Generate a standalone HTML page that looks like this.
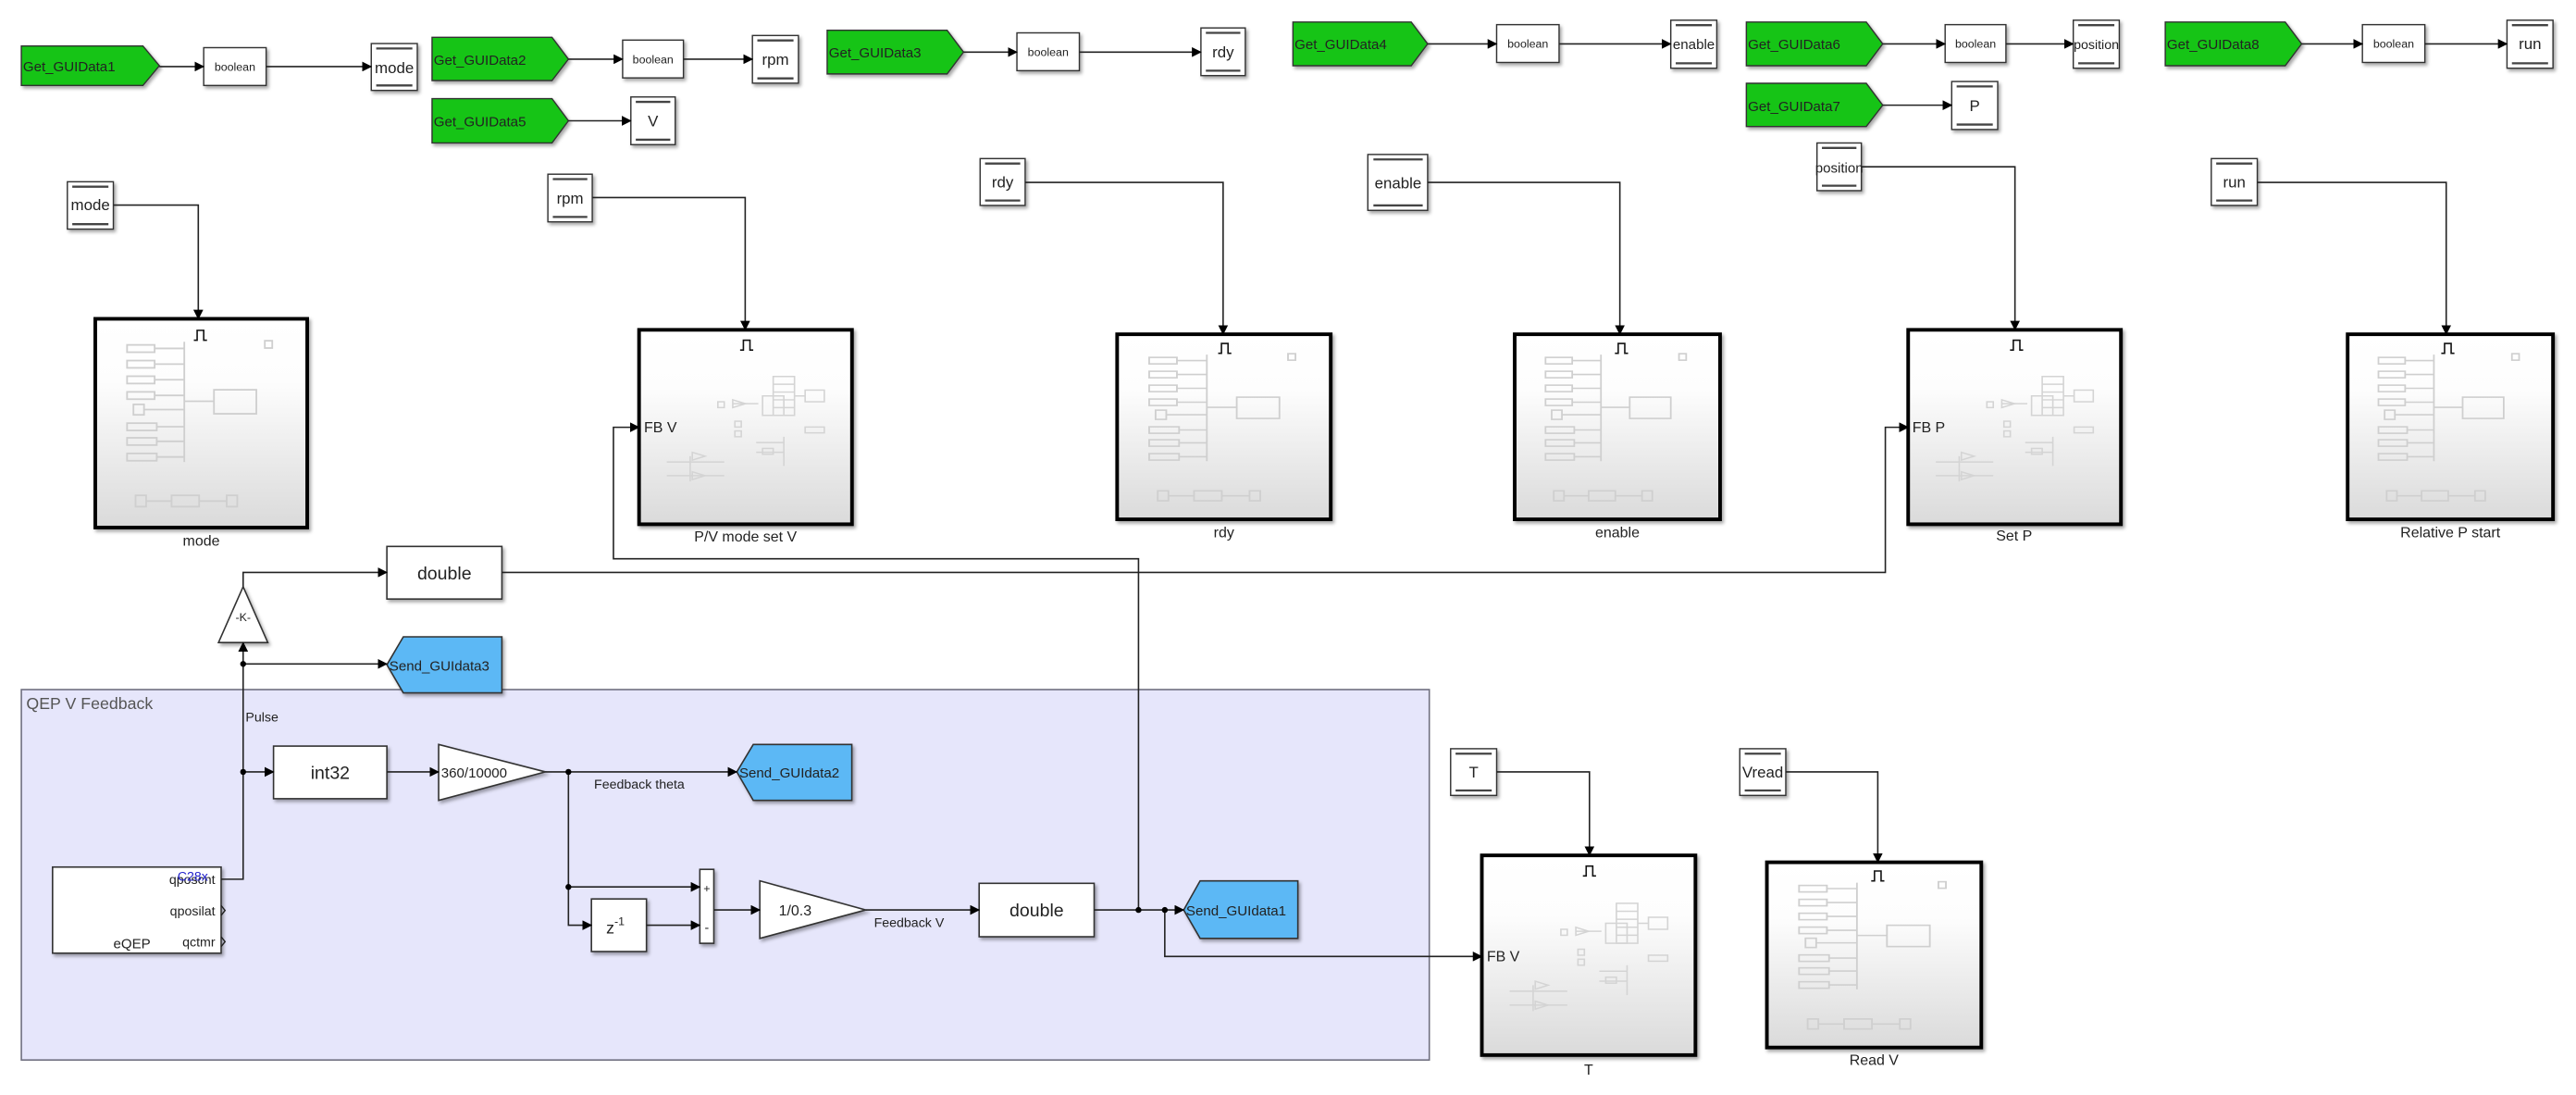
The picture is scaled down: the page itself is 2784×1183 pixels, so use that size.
<!DOCTYPE html>
<html><head><meta charset="utf-8"><style>
html,body{margin:0;padding:0;background:#fff;}
svg{display:block;}
text{font-family:"Liberation Sans Narrow","Liberation Sans",sans-serif;fill:#222;}
</style></head><body>
<svg width="2784" height="1183" viewBox="0 0 1568 666.3" preserveAspectRatio="none" xmlns="http://www.w3.org/2000/svg">
<defs>
<marker id="ar" markerWidth="6" markerHeight="6" refX="5.5" refY="3" orient="auto" markerUnits="userSpaceOnUse"><path d="M0,0 L6,3 L0,6 z" fill="#000"/></marker>
<filter id="sh" x="-10%" y="-10%" width="130%" height="130%"><feDropShadow dx="1.2" dy="1.5" stdDeviation="1" flood-color="#000" flood-opacity="0.35"/></filter>
<linearGradient id="gr" x1="0" y1="0" x2="0" y2="1"><stop offset="0" stop-color="#fff"/><stop offset="0.3" stop-color="#fdfdfd"/><stop offset="1" stop-color="#dadada"/></linearGradient>
<symbol id="lst" viewBox="0 0 100 100" preserveAspectRatio="none">
<g fill="none" stroke="#cfcfcf" stroke-width="0.8">
<rect x="15" y="12.5" width="13" height="3.5"/><rect x="15" y="20" width="13" height="3.5"/><rect x="15" y="27.5" width="13" height="3.5"/><rect x="15" y="35" width="13" height="3.5"/><rect x="18" y="41" width="5" height="5"/><rect x="15" y="50" width="14" height="3.5"/><rect x="15" y="57" width="14" height="3.5"/><rect x="15" y="64.5" width="14" height="3.5"/>
<path d="M28,14.2H42M28,21.7H42M28,29.2H42M28,36.7H42M23,43.5H42M29,51.7H42M29,58.7H42M29,66.2H42M42,11V68.6M42,39.5H56"/>
<rect x="56" y="34" width="20" height="11.5"/><rect x="80" y="10.5" width="3.5" height="3.5"/>
<rect x="19" y="84.6" width="5" height="5.4"/><rect x="36" y="84.6" width="13" height="5.4"/><rect x="62" y="84.6" width="5" height="5.4"/><path d="M24,87.3H36M49,87.3H62"/>
</g></symbol>
<symbol id="spr" viewBox="0 0 100 100" preserveAspectRatio="none">
<g fill="none" stroke="#d4d4d4" stroke-width="0.7">
<rect x="63" y="24" width="10" height="20"/><path d="M63,28H73M63,32H73M63,36H73M63,40H73M73,34H78"/><rect x="78" y="31" width="9" height="6"/>
<rect x="58" y="34" width="10" height="10"/><path d="M44,38H56"/><polygon points="44,36 50,38 44,40"/><rect x="37" y="37" width="3" height="3"/>
<rect x="78" y="50" width="9" height="3"/><rect x="45" y="47" width="3" height="3"/><rect x="45" y="52" width="3" height="3"/>
<path d="M55,58H68M68,55V70M55,63H68"/><rect x="58" y="61" width="5" height="3"/>
<path d="M13,68H40M13,75H40M24,65V78"/><polygon points="25,63 31,65 25,67"/><polygon points="25,73 31,75 25,77"/>
</g></symbol>
</defs>

<!-- ============ TOP ROW ============ -->
<g stroke="#333" stroke-width="0.8" filter="url(#sh)">
<polygon points="13,28 87,28 97,40 87,52 13,52" fill="#16c416"/>
<polygon points="263,22.7 336,22.7 346,36 336,49 263,49" fill="#16c416"/>
<polygon points="263,60 336,60 346,73.5 336,87 263,87" fill="#16c416"/>
<polygon points="503.5,18.4 576.5,18.4 586.5,31.7 576.5,45 503.5,45" fill="#16c416"/>
<polygon points="787,13.4 859,13.4 869,26.7 859,40 787,40" fill="#16c416"/>
<polygon points="1063,13.4 1136,13.4 1146,26.7 1136,40 1063,40" fill="#16c416"/>
<polygon points="1318,13.4 1391,13.4 1401,26.7 1391,40 1318,40" fill="#16c416"/>
<polygon points="1063,50.7 1136,50.7 1146,64 1136,77 1063,77" fill="#16c416"/>
</g>
<g font-size="8.5">
<text x="14" y="43.5">Get_GUIData1</text>
<text x="264" y="39.5">Get_GUIData2</text>
<text x="264" y="77">Get_GUIData5</text>
<text x="504.5" y="35">Get_GUIData3</text>
<text x="788" y="30">Get_GUIData4</text>
<text x="1064" y="30">Get_GUIData6</text>
<text x="1319" y="30">Get_GUIData8</text>
<text x="1064" y="67.5">Get_GUIData7</text>
</g>
<!-- boolean boxes -->
<g fill="#fff" stroke="#333" stroke-width="0.8" filter="url(#sh)">
<rect x="124" y="29" width="38" height="23"/>
<rect x="379" y="24.4" width="37" height="23"/>
<rect x="619" y="20" width="38" height="23"/>
<rect x="911" y="15" width="38" height="23"/>
<rect x="1184" y="15" width="37" height="23"/>
<rect x="1438" y="15" width="38" height="23"/>
</g>
<g font-size="7" text-anchor="middle">
<text x="143" y="43">boolean</text><text x="397.5" y="38.5">boolean</text><text x="638" y="34">boolean</text>
<text x="930" y="29">boolean</text><text x="1202.5" y="29">boolean</text><text x="1457" y="29">boolean</text>
</g>
<!-- goto tags top -->
<g fill="#fff" stroke="#333" stroke-width="0.8" filter="url(#sh)">
<rect x="226" y="26.5" width="28" height="28.5"/>
<rect x="458" y="21.6" width="28" height="29"/>
<rect x="384" y="59" width="27" height="29"/>
<rect x="731" y="17" width="27" height="29"/>
<rect x="1017" y="12.3" width="28" height="29.2"/>
<rect x="1262" y="12.3" width="28" height="29.2"/>
<rect x="1526" y="12.3" width="28" height="29.2"/>
<rect x="1188" y="49.6" width="28" height="29.2"/>
<!-- from tags -->
<rect x="41" y="110.6" width="28" height="28.8"/>
<rect x="333.5" y="106" width="27" height="29"/>
<rect x="596.6" y="96.5" width="27.4" height="28.5"/>
<rect x="832.6" y="94" width="36.4" height="34"/>
<rect x="1106" y="87" width="27" height="29"/>
<rect x="1346" y="96.5" width="28" height="28.5"/>
<rect x="883" y="455.6" width="28" height="28.4"/>
<rect x="1059" y="455.6" width="28" height="28.4"/>
</g>
<g stroke="#444" stroke-width="1.3">
<path d="M229,29.5H251M229,52H251M461,24.6H483M461,47.7H483M387,62H408M387,85H408M734,20H755M734,43H755M1020,15.3H1042M1020,38.5H1042M1265,15.3H1287M1265,38.5H1287M1529,15.3H1551M1529,38.5H1551M1191,52.6H1213M1191,75.8H1213"/>
<path d="M44,113.6H66M44,136.4H66M336.5,109H357.5M336.5,132H357.5M599.6,99.5H621M599.6,122H621M836,97H866M836,125H866M1109,90H1130M1109,113H1130M1349,99.5H1371M1349,122H1371M886,458.6H908M886,481H908M1062,458.6H1084M1062,481H1084"/>
</g>
<g font-size="9.5" text-anchor="middle">
<text x="240" y="44.5">mode</text><text x="472" y="39.5">rpm</text><text x="397.5" y="77">V</text><text x="744.5" y="35">rdy</text>
<text x="1031" y="30" font-size="8.5">enable</text><text x="1276" y="30" font-size="8">position</text><text x="1540" y="30">run</text><text x="1202" y="67.5">P</text>
<text x="55" y="128">mode</text><text x="347" y="124">rpm</text><text x="610.3" y="114">rdy</text><text x="851" y="114.5">enable</text>
<text x="1119.5" y="105" font-size="8.5">position</text><text x="1360" y="114">run</text><text x="897" y="473">T</text><text x="1073" y="473">Vread</text>
</g>
<!-- top connectors -->
<g fill="none" stroke="#222" stroke-width="0.9" marker-end="url(#ar)">
<path d="M97,40.5H124"/><path d="M162,40.5H226"/>
<path d="M346,36H379"/><path d="M416,36H458"/><path d="M346,73.5H384"/>
<path d="M586.5,31.7H619"/><path d="M657,31.7H731"/>
<path d="M869,26.7H911"/><path d="M949,26.7H1017"/>
<path d="M1146,26.7H1184"/><path d="M1221,26.7H1262"/>
<path d="M1401,26.7H1438"/><path d="M1476,26.7H1526"/>
<path d="M1146,64H1188"/>
<path d="M69,124.8H120.7V194"/>
<path d="M360.6,120.2H453.6V200.7"/>
<path d="M624,111H744.5V203.4"/>
<path d="M869,111H986V203.4"/>
<path d="M1133,101.5H1226.5V200.7"/>
<path d="M1374,111H1489V203.4"/>
<path d="M911,469.7H967.5V520.5"/>
<path d="M1087,469.7H1143V524.7"/>
</g>

<!-- ============ SUBSYSTEMS ============ -->
<g stroke="#000" stroke-width="2.2" fill="url(#gr)" filter="url(#sh)">
<rect x="58" y="194" width="129" height="127"/>
<rect x="389" y="200.7" width="129.6" height="118.3"/>
<rect x="680" y="203.4" width="130" height="112.6"/>
<rect x="922" y="203.4" width="125" height="112.6"/>
<rect x="1161.5" y="200.7" width="129.5" height="118.3"/>
<rect x="1429" y="203.4" width="125" height="112.6"/>
<rect x="902" y="520.5" width="130" height="121.5"/>
<rect x="1075.5" y="524.7" width="130.5" height="112.7"/>
</g>
<use href="#lst" x="58" y="194" width="129" height="127"/>
<use href="#lst" x="680" y="203.4" width="130" height="112.6"/>
<use href="#lst" x="922" y="203.4" width="125" height="112.6"/>
<use href="#lst" x="1429" y="203.4" width="125" height="112.6"/>
<use href="#lst" x="1075.5" y="524.7" width="130.5" height="112.7"/>
<use href="#spr" x="389" y="200.7" width="129.6" height="118.3"/>
<use href="#spr" x="1161.5" y="200.7" width="129.5" height="118.3"/>
<use href="#spr" x="902" y="520.5" width="130" height="121.5"/>
<!-- pulse icons -->
<g fill="none" stroke="#111" stroke-width="0.9">
<path d="M118,207H120V201H124V207H126"/>
<path d="M450.5,213H452.5V207H456.5V213H458.5"/>
<path d="M741.5,215H743.5V209H747.5V215H749.5"/>
<path d="M983,215H985V209H989V215H991"/>
<path d="M1223.5,213H1225.5V207H1229.5V213H1231.5"/>
<path d="M1486,215H1488V209H1492V215H1494"/>
<path d="M963.5,533H965.5V527H969.5V533H971.5"/>
<path d="M1139,536H1141V530H1145V536H1147"/>
</g>
<g font-size="9" text-anchor="middle">
<text x="122.5" y="332">mode</text><text x="453.8" y="329.5">P/V mode set V</text><text x="745" y="327">rdy</text>
<text x="984.5" y="327">enable</text><text x="1226" y="329">Set P</text><text x="1491.5" y="327">Relative P start</text>
<text x="967" y="654">T</text><text x="1140.7" y="648">Read V</text>
</g>
<g font-size="9"><text x="392" y="263">FB V</text><text x="1164" y="263">FB P</text><text x="905" y="585">FB V</text></g>

<!-- ============ QEP AREA ============ -->
<rect x="13" y="419.6" width="857" height="225.4" fill="#e6e6fb" stroke="#707080" stroke-width="0.9"/>
<text x="16" y="431.5" font-size="10" fill="#555" style="fill:#555">QEP V Feedback</text>

<!-- blocks -->
<g fill="#fff" stroke="#333" stroke-width="0.9" filter="url(#sh)">
<rect x="235.5" y="332.5" width="70" height="32"/>
<polygon points="148,357 163,391 133,391"/>
<polygon points="245.5,387.5 305.5,387.5 305.5,421.6 245.5,421.6 235.5,404.5" fill="#5cb8f5"/>
<rect x="166.5" y="454" width="69" height="32"/>
<polygon points="267,453 332,469.7 267,487"/>
<polygon points="458.5,453 518.5,453 518.5,487 458.5,487 448.5,469.7" fill="#5cb8f5"/>
<rect x="32" y="527.6" width="102.6" height="52.4"/>
<rect x="360" y="547" width="33.5" height="32"/>
<rect x="426" y="529" width="8.5" height="45"/>
<polygon points="462.5,536 527,553.7 462.5,571"/>
<rect x="596" y="537.5" width="70" height="32.5"/>
<polygon points="730.5,536 790,536 790,571 730.5,571 720.5,553.7" fill="#5cb8f5"/>
</g>
<g font-size="11" text-anchor="middle">
<text x="270.5" y="352.5">double</text>
<text x="201" y="474">int32</text>
<text x="631" y="557.5">double</text>
</g>
<text x="148" y="378" font-size="7" text-anchor="middle">-K-</text>
<text x="268.5" y="473" font-size="8.5">360/10000</text>
<text x="474" y="557" font-size="9">1/0.3</text>
<text x="369" y="568" font-size="10">z<tspan dy="-5" font-size="7">-1</tspan></text>
<text x="430.2" y="543" font-size="7" text-anchor="middle">+</text>
<text x="430.2" y="567" font-size="8" text-anchor="middle">-</text>
<g font-size="8.5">
<text x="237" y="408">Send_GUIdata3</text>
<text x="450" y="473">Send_GUIdata2</text>
<text x="722" y="557">Send_GUIdata1</text>
</g>
<g font-size="8">
<text x="149.5" y="439">Pulse</text>
<text x="361.6" y="480">Feedback theta</text>
<text x="532" y="564">Feedback V</text>
<text x="131" y="538" text-anchor="end">qposcnt</text>
<text x="131" y="557" text-anchor="end">qposilat</text>
<text x="131" y="576" text-anchor="end">qctmr</text>
<text x="69" y="577" font-size="8.5">eQEP</text>
</g>
<text x="108" y="536" font-size="8" style="fill:#2222cc">C28x</text>
<g fill="none" stroke="#222" stroke-width="0.8"><path d="M134.6,551L137,554L134.6,557M134.6,570L137,573L134.6,576"/></g>

<!-- bottom connectors -->
<g fill="none" stroke="#222" stroke-width="0.9">
<path d="M134.6,535H148V391" marker-end="url(#ar)"/>
<path d="M148,357V348.3H235.5" marker-end="url(#ar)"/>
<path d="M148,404H235.5" marker-end="url(#ar)"/>
<path d="M148,469.7H166.5" marker-end="url(#ar)"/>
<path d="M235.5,469.7H267" marker-end="url(#ar)"/>
<path d="M332,469.7H448.5" marker-end="url(#ar)"/>
<path d="M346,469.7V563H360" marker-end="url(#ar)"/>
<path d="M346,539.7H426" marker-end="url(#ar)"/>
<path d="M393.5,563H426" marker-end="url(#ar)"/>
<path d="M434.5,553.7H462.5" marker-end="url(#ar)"/>
<path d="M527,553.7H596" marker-end="url(#ar)"/>
<path d="M666,553.7H720.5" marker-end="url(#ar)"/>
<path d="M709,553.7V582H902" marker-end="url(#ar)"/>
<path d="M693,553.7V340H373.4V260H389" marker-end="url(#ar)"/>
<path d="M305.5,348.3H1147.6V260H1161.5" marker-end="url(#ar)"/>
</g>
<g fill="#000">
<circle cx="148" cy="404" r="1.8"/><circle cx="148" cy="469.7" r="1.8"/><circle cx="346" cy="469.7" r="1.8"/>
<circle cx="346" cy="539.7" r="1.8"/><circle cx="693" cy="553.7" r="1.8"/><circle cx="709" cy="553.7" r="1.8"/>
</g>
</svg>
</body></html>
